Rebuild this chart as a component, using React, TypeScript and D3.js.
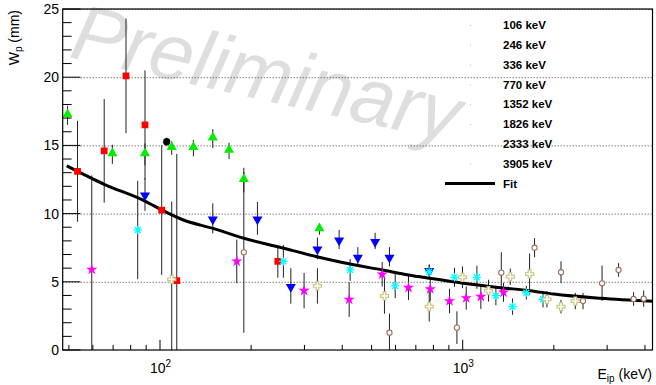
import React from 'react';
import * as d3 from 'd3';

const width = 656;
const height = 385;
const frame = { left: 62.7, right: 652.5, top: 9, bottom: 350 };

const legendLabels = ['106 keV', '246 keV', '336 keV', '770 keV', '1352 keV', '1826 keV', '2333 keV', '3905 keV'];

// [E_ip (keV), W_p (mm), error (mm)]
const redSquares = [
  [53.4, 13.1, 3.7], [65.4, 14.6, 3.8], [77.2, 20.1, 4.2], [89.2, 16.5, 4.0],
  [101.3, 10.26, 4.75], [113.6, 5.08, 9.3], [245, 6.5, 1.2],
];
const greenUp = [
  [49.5, 17.2, 0.7], [69.6, 14.35, 0.7], [89.2, 14.35, 0.8], [109.3, 14.8, 0.5],
  [128.9, 14.8, 0.6], [149.4, 15.5, 0.7], [169.1, 14.6, 0.6], [189.2, 12.46, 0.9], [336.3, 8.85, 0.4],
];
const blueDown = [
  [89.2, 11.4, 1.2], [149.4, 9.65, 1.1], [209.8, 9.65, 1.2], [270.5, 4.7, 1.3], [331.1, 7.45, 0.8],
  [390.6, 8.1, 0.7], [450.4, 6.84, 0.7], [513.6, 8.0, 0.6], [572.8, 6.84, 0.7], [775, 5.87, 0.4],
];
const magentaStars = [
  [59.5, 5.9, 6.9], [179.3, 6.5, 1.6], [299.2, 4.35, 1.3], [421.5, 3.7, 1.27], [541.9, 5.55, 0.9],
  [662, 4.57, 0.9], [781, 4.47, 0.9], [904.5, 3.59, 0.9], [1027, 3.81, 0.85], [1148, 3.91, 0.9], [1364, 4.23, 0.7],
];
const cyanStars = [
  [84.4, 8.8, 3.6], [255.6, 6.5, 1.2], [424.7, 5.87, 0.8], [598.3, 4.7, 0.9], [775, 5.74, 0.5],
  [939.5, 5.33, 0.7], [1114, 5.33, 0.85], [1287, 3.98, 0.7], [1461, 3.18, 0.6], [1622, 4.2, 0.5], [1842, 3.72, 0.6],
];
const tanCrosses = [
  [109.3, 5.18, 5.7], [331.1, 4.7, 1.3], [551.4, 3.96, 1.3], [775, 3.18, 1.1], [998, 5.33, 0.8],
  [1217, 4.35, 0.8], [1436, 5.37, 0.6], [1663, 5.57, 1.5], [1898, 3.72, 0.6], [2112, 3.18, 0.5], [2355, 3.59, 0.6],
];
const brownCircles = [
  [189.2, 7.16, 5.9], [572.8, 1.27, 1.4], [956.8, 1.64, 1.2], [1341, 5.67, 1.5], [1727, 7.5, 0.7],
  [2112, 5.7, 0.8], [2497, 3.59, 0.6], [2886, 4.89, 1.3], [3273, 5.87, 0.5], [3669, 3.74, 0.5], [3961, 3.76, 0.6],
];
const blackCircles = [[105.2, 15.27, 0.3]];

// fit curve
const fitE = [49.2, 65.4, 89.2, 103.9, 119.4, 149.4, 189.2, 249, 329.8, 424.7, 541.9, 662, 775, 1006, 1331, 1670, 1998, 2856, 4236];
const fitW = [13.5, 12.15, 10.92, 10.14, 9.53, 8.92, 8.19, 7.53, 6.84, 6.3, 5.87, 5.5, 5.26, 4.89, 4.57, 4.35, 4.1, 3.79, 3.57];

const yMajor = [0, 5, 10, 15, 20, 25];
const yMinor = d3.range(0, 26);
const xMajor = [100, 1000];
const xMinor = [50, 60, 70, 80, 90, 200, 300, 400, 500, 600, 700, 800, 900, 2000, 3000, 4000];

const x = d3.scaleLog().domain([47.7, 4236]).range([frame.left, frame.right]);
const y = d3.scaleLinear().domain([0, 25]).range([frame.bottom, frame.top]);

const font = 'Liberation Sans, Arial, Helvetica, sans-serif';

const sq = d3.symbol(d3.symbolSquare, 46)()!;
const tri = d3.symbol(d3.symbolTriangle, 44)()!;
const star = d3.symbol(d3.symbolStar, 40)()!;
const cross = d3.symbol(d3.symbolCross, 36)()!;

const asterisk = (r: number) =>
  [0, 45, 90, 135]
    .map((a) => {
      const dx = r * Math.cos((a * Math.PI) / 180);
      const dy = r * Math.sin((a * Math.PI) / 180);
      return `M${-dx},${-dy}L${dx},${dy}`;
    })
    .join('');

const ErrorBars = ({ data }: { data: number[][] }) => (
  <g stroke="#222" strokeWidth={1}>
    {data.map((d, i) => (
      <line key={i} x1={x(d[0])} x2={x(d[0])} y1={y(d[1] + d[2])} y2={y(d[1] - d[2])} />
    ))}
  </g>
);

const Markers = ({ data, render }: { data: number[][]; render: (d: number[]) => React.ReactNode }) => (
  <g>
    {data.map((d, i) => (
      <g key={i} transform={`translate(${x(d[0])},${y(d[1])})`}>{render(d)}</g>
    ))}
  </g>
);

const App = () => {
  const fitLine = d3
    .line<number>()
    .x((_, i) => x(fitE[i]))
    .y((w) => y(w))
    .curve(d3.curveMonotoneX)(fitW)!;

  const allSeries = [redSquares, greenUp, blueDown, magentaStars, cyanStars, tanCrosses, brownCircles, blackCircles];

  return (
    <svg width={width} height={height} style={{ position: 'absolute', left: 0, top: 0, background: '#fff' }} fontFamily={font}>
      <defs>
        <clipPath id="plot">
          <rect x={frame.left} y={frame.top} width={frame.right - frame.left} height={frame.bottom - frame.top} />
        </clipPath>
        <clipPath id="page">
          <rect x={0} y={0} width={width} height={height} />
        </clipPath>
      </defs>
      <rect width={width} height={height} fill="#fff" />

      {/* watermark */}
      <g clipPath="url(#page)">
        <text transform="translate(68,57) rotate(12.5)" fontSize={79} fontStyle="italic" fill="#dedede">
          Preliminary
        </text>
      </g>

      {/* grid */}
      <g stroke="#444" strokeWidth={1} strokeDasharray="1,2">
        {yMajor.filter((v) => v > 0).map((v) => (
          <line key={v} x1={frame.left} x2={frame.right} y1={y(v) + 0.5} y2={y(v) + 0.5} />
        ))}
      </g>

      <g clipPath="url(#plot)">
        {allSeries.map((s, i) => (
          <ErrorBars key={i} data={s} />
        ))}
        <path d={fitLine} fill="none" stroke="#000" strokeWidth={3} />
        <Markers data={redSquares} render={() => <path d={sq} fill="#ff0000" />} />
        <Markers data={greenUp} render={() => <path d={tri} fill="#00ee00" transform="translate(0,-1)" />} />
        <Markers data={blueDown} render={() => <path d={tri} fill="#0000ff" transform="rotate(180) translate(0,-1)" />} />
        <Markers data={magentaStars} render={() => <path d={star} fill="#ff00ff" />} />
        <Markers data={cyanStars} render={() => <path d={asterisk(4.2)} stroke="#00ffff" strokeWidth={1.3} />} />
        <Markers data={tanCrosses} render={() => <path d={cross} fill="#fff" stroke="#cfc584" strokeWidth={1.2} />} />
        <Markers data={brownCircles} render={() => <circle r={2.6} fill="#fff" stroke="#a07060" strokeWidth={1.1} />} />
        <Markers data={blackCircles} render={() => <circle r={3.6} fill="#000" />} />
      </g>

      {/* frame */}
      <rect
        x={frame.left}
        y={frame.top}
        width={frame.right - frame.left}
        height={frame.bottom - frame.top}
        fill="none"
        stroke="#000"
        strokeWidth={1.2}
      />

      {/* axis ticks */}
      <g stroke="#000" strokeWidth={1}>
        {yMinor.map((v) => (
          <line key={v} x1={frame.left} x2={frame.left + (v % 5 === 0 ? 17.7 : 8.9)} y1={y(v)} y2={y(v)} />
        ))}
        {xMinor.map((v) => (
          <line key={v} x1={x(v)} x2={x(v)} y1={frame.bottom} y2={frame.bottom - 5.1} />
        ))}
        {xMajor.map((v) => (
          <line key={v} x1={x(v)} x2={x(v)} y1={frame.bottom} y2={frame.bottom - 10.2} />
        ))}
      </g>

      <g fontSize={14} textAnchor="end" fill="#000">
        {yMajor.map((v) => (
          <text key={v} x={59} y={y(v)} dy="0.36em">
            {v}
          </text>
        ))}
      </g>
      <g fontSize={14} fill="#000">
        {xMajor.map((v) => (
          <text key={v} x={x(v) - 10} y={373}>
            10
            <tspan fontSize={10} dy={-6}>
              {Math.round(Math.log10(v))}
            </tspan>
          </text>
        ))}
      </g>

      {/* axis titles */}
      <text x={652} y={379} fontSize={14} textAnchor="end">
        E<tspan fontSize={10} dy={3}>ip</tspan>
        <tspan dy={-3}> (keV)</tspan>
      </text>
      <text transform="translate(19,10) rotate(-90)" fontSize={14} textAnchor="end">
        W<tspan fontSize={10} dy={3}>p</tspan>
        <tspan dy={-3}> (mm)</tspan>
      </text>

      {/* legend */}
      <g fontSize={11.5} fontWeight="bold">
        {legendLabels.map((l, i) => (
          <g key={l}>
            <rect x={470} y={25 + i * 19.8} width={1} height={1} fill="#bbb" />
            <text x={503} y={25 + i * 19.8} dy="0.36em">
              {l}
            </text>
          </g>
        ))}
        <line x1={445} x2={495} y1={183.4} y2={183.4} stroke="#000" strokeWidth={3} />
        <text x={503} y={183.4} dy="0.36em">
          Fit
        </text>
      </g>
    </svg>
  );
};

export default App;
